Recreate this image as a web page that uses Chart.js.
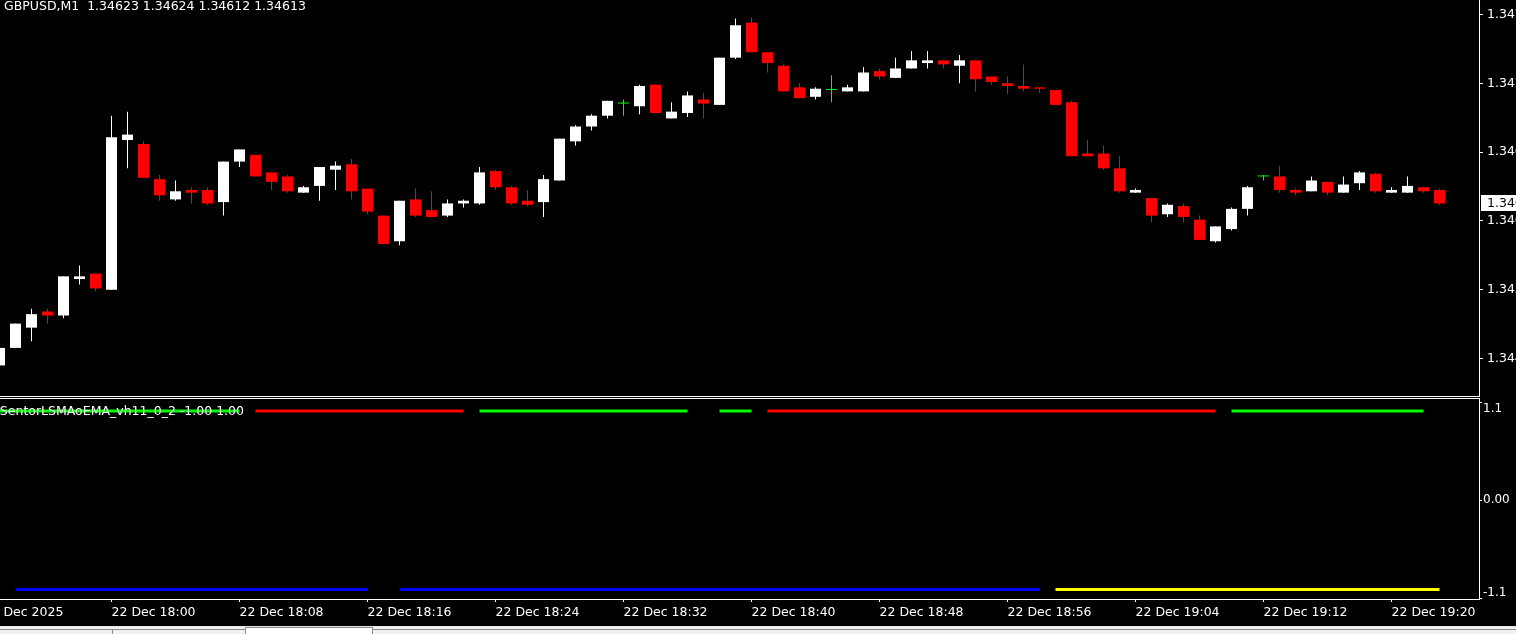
<!DOCTYPE html>
<html>
<head>
<meta charset="utf-8">
<script src="https://cdn.jsdelivr.net/npm/chart.js@4.4.1/dist/chart.umd.min.js"></script>
<style>
  html, body { margin: 0; padding: 0; background: #000; overflow: hidden; }
  #wrap { position: relative; width: 1516px; height: 634px; background: #000; }
  canvas { position: absolute; left: 0; }
  #main { top: 0; }
  #ind { top: 397px; }
  #tabs { position: absolute; left: 0; top: 626px; width: 1516px; height: 8px; background: #f0f0f0; border-top: 1px solid #e6e6e6; box-sizing: border-box; }
  .tab { position: absolute; top: 2px; height: 6px; border: 1px solid #8c8c8c; border-bottom: none; box-sizing: border-box; background: #f0f0f0; }
</style>
</head>
<body>
<div id="wrap">
  <canvas id="main" width="1516" height="397"></canvas>
  <canvas id="ind" width="1516" height="229"></canvas>
  <div id="tabs">
    <div class="tab" style="left:-1px;width:114px"></div>
    <div class="tab" style="left:112px;width:134px"></div>
    <div class="tab" style="left:245px;width:128px;background:#fff;top:0;height:8px"></div>
    <div class="tab" style="left:372px;width:1150px"></div>
  </div>
</div>
<script>
/* global Chart */

// GBPUSD M1, 22 Dec 2025
const symbol = 'GBPUSD,M1';
const times = [
  '17:53','17:54','17:55','17:56','17:57','17:58','17:59',
  '18:00','18:01','18:02','18:03','18:04','18:05','18:06','18:07','18:08','18:09',
  '18:10','18:11','18:12','18:13','18:14','18:15','18:16','18:17','18:18','18:19',
  '18:20','18:21','18:22','18:23','18:24','18:25','18:26','18:27','18:28','18:29',
  '18:30','18:31','18:32','18:33','18:34','18:35','18:36','18:37','18:38','18:39',
  '18:40','18:41','18:42','18:43','18:44','18:45','18:46','18:47','18:48','18:49',
  '18:50','18:51','18:52','18:53','18:54','18:55','18:56','18:57','18:58','18:59',
  '19:00','19:01','19:02','19:03','19:04','19:05','19:06','19:07','19:08','19:09',
  '19:10','19:11','19:12','19:13','19:14','19:15','19:16','19:17','19:18','19:19',
  '19:20','19:21','19:22','19:23'
];
const opens = [
  1.34493,1.34506,1.34521,1.34533,1.34530,1.34557,1.34561,
  1.34549,1.34660,1.34657,1.34631,1.34616,1.34623,1.34623,1.34614,1.34644,1.34649,
  1.34636,1.34633,1.34621,1.34626,1.34638,1.34642,1.34624,1.34604,1.34585,1.34616,
  1.34608,1.34604,1.34613,1.34613,1.34637,1.34625,1.34615,1.34614,1.34630,1.34659,
  1.34670,1.34678,1.34687,1.34685,1.34701,1.34676,1.34680,1.34690,1.34686,1.34721,
  1.34747,1.34725,1.34715,1.34699,1.34692,1.34697,1.34696,1.34696,1.34711,1.34706,
  1.34713,1.34717,1.34719,1.34715,1.34719,1.34707,1.34702,1.34700,1.34699,1.34697,
  1.34688,1.34650,1.34650,1.34639,1.34621,1.34617,1.34605,1.34611,1.34601,1.34585,
  1.34594,1.34609,1.34633,1.34633,1.34623,1.34622,1.34629,1.34621,1.34628,1.34635,
  1.34621,1.34621,1.34625,1.34623
];
const highs = [
  1.34506,1.34524,1.34535,1.34535,1.34559,1.34567,1.34561,
  1.34678,1.34681,1.34659,1.34634,1.34630,1.34625,1.34625,1.34644,1.34653,1.34649,
  1.34636,1.34634,1.34626,1.34640,1.34644,1.34646,1.34624,1.34604,1.34615,1.34624,
  1.34622,1.34616,1.34616,1.34640,1.34638,1.34626,1.34623,1.34634,1.34661,1.34671,
  1.34679,1.34689,1.34690,1.34701,1.34701,1.34688,1.34696,1.34695,1.34721,1.34750,
  1.34751,1.34725,1.34716,1.34702,1.34699,1.34708,1.34701,1.34714,1.34713,1.34721,
  1.34726,1.34726,1.34719,1.34723,1.34719,1.34707,1.34707,1.34716,1.34699,1.34697,
  1.34689,1.34660,1.34656,1.34648,1.34624,1.34617,1.34613,1.34613,1.34604,1.34596,
  1.34610,1.34626,1.34634,1.34641,1.34624,1.34633,1.34629,1.34633,1.34637,1.34636,
  1.34625,1.34633,1.34625,1.34624
];
const lows = [
  1.34493,1.34506,1.34511,1.34524,1.34528,1.34553,1.34548,
  1.34549,1.34639,1.34632,1.34615,1.34615,1.34613,1.34612,1.34604,1.34640,1.34633,
  1.34623,1.34621,1.34621,1.34615,1.34623,1.34616,1.34605,1.34583,1.34582,1.34603,
  1.34603,1.34603,1.34610,1.34612,1.34623,1.34612,1.34611,1.34603,1.34630,1.34656,
  1.34667,1.34676,1.34678,1.34679,1.34680,1.34676,1.34677,1.34676,1.34686,1.34720,
  1.34725,1.34710,1.34696,1.34691,1.34690,1.34688,1.34696,1.34696,1.34705,1.34706,
  1.34713,1.34713,1.34713,1.34702,1.34696,1.34701,1.34694,1.34696,1.34695,1.34686,
  1.34648,1.34648,1.34638,1.34621,1.34621,1.34599,1.34603,1.34599,1.34586,1.34584,
  1.34593,1.34604,1.34630,1.34621,1.34619,1.34622,1.34619,1.34621,1.34623,1.34621,
  1.34621,1.34621,1.34621,1.34612
];
const closes = [
  1.34506,1.34524,1.34531,1.34530,1.34559,1.34559,1.34550,
  1.34662,1.34664,1.34632,1.34619,1.34622,1.34621,1.34613,1.34644,1.34653,1.34633,
  1.34629,1.34622,1.34625,1.34640,1.34641,1.34622,1.34607,1.34583,1.34615,1.34604,
  1.34603,1.34613,1.34615,1.34636,1.34625,1.34613,1.34612,1.34631,1.34661,1.34670,
  1.34678,1.34689,1.34687,1.34700,1.34680,1.34681,1.34693,1.34687,1.34721,1.34745,
  1.34725,1.34717,1.34696,1.34691,1.34698,1.34697,1.34699,1.34710,1.34707,1.34713,
  1.34719,1.34719,1.34716,1.34719,1.34705,1.34703,1.34700,1.34698,1.34698,1.34686,
  1.34648,1.34648,1.34639,1.34622,1.34623,1.34604,1.34612,1.34603,1.34586,1.34596,
  1.34609,1.34625,1.34633,1.34623,1.34621,1.34630,1.34621,1.34627,1.34636,1.34622,
  1.34623,1.34626,1.34622,1.34613
];

// indicator buffers (null = not drawn on that bar)
const _ = null;
const trendUpGreen = [
  1,1,1,1,1,1,1,1,1,1, 1,1,1,1,1,1,_,_,_,_, _,_,_,_,_,_,_,_,_,_,
  1,1,1,1,1,1,1,1,1,1, 1,1,1,1,_,1,1,1,_,_, _,_,_,_,_,_,_,_,_,_,
  _,_,_,_,_,_,_,_,_,_, _,_,_,_,_,_,_,1,1,1, 1,1,1,1,1,1,1,1,1,1, _
];
const trendUpRed = [
  _,_,_,_,_,_,_,_,_,_, _,_,_,_,_,_,1,1,1,1, 1,1,1,1,1,1,1,1,1,1,
  _,_,_,_,_,_,_,_,_,_, _,_,_,_,_,_,_,_,1,1, 1,1,1,1,1,1,1,1,1,1,
  1,1,1,1,1,1,1,1,1,1, 1,1,1,1,1,1,1,_,_,_, _,_,_,_,_,_,_,_,_,_, _
];
const trendDnBlue = [
  _,-1,-1,-1,-1,-1,-1,-1,-1,-1, -1,-1,-1,-1,-1,-1,-1,-1,-1,-1, -1,-1,-1,-1,_,-1,-1,-1,-1,-1,
  -1,-1,-1,-1,-1,-1,-1,-1,-1,-1, -1,-1,-1,-1,-1,-1,-1,-1,-1,-1, -1,-1,-1,-1,-1,-1,-1,-1,-1,-1,
  -1,-1,-1,-1,-1,-1,_,_,_,_, _,_,_,_,_,_,_,_,_,_, _,_,_,_,_,_,_,_,_,_, _
];
const trendDnYellow = [
  _,_,_,_,_,_,_,_,_,_, _,_,_,_,_,_,_,_,_,_, _,_,_,_,_,_,_,_,_,_,
  _,_,_,_,_,_,_,_,_,_, _,_,_,_,_,_,_,_,_,_, _,_,_,_,_,_,_,_,_,_,
  _,_,_,_,_,_,-1,-1,-1,-1, -1,-1,-1,-1,-1,-1,-1,-1,-1,-1, -1,-1,-1,-1,-1,-1,-1,-1,-1,-1, -1
];
const indName = 'SentorLSMAoEMA_vh11_0_2 -1.00 1.00';

// axis ticks
const priceTicks = [1.34498, 1.34549, 1.34600, 1.34651, 1.34702, 1.34753];
const indTicks = [1.1, 0, -1.1];
const indTickLabels = ['1.1', '0.00', '-1.1'];
const timeTicks = ['17:52','18:00','18:08','18:16','18:24','18:32','18:40','18:48','18:56','19:04','19:12','19:20'];
const timeTickLabels = ['22 Dec 2025','22 Dec 18:00','22 Dec 18:08','22 Dec 18:16','22 Dec 18:24','22 Dec 18:32',
  '22 Dec 18:40','22 Dec 18:48','22 Dec 18:56','22 Dec 19:04','22 Dec 19:12','22 Dec 19:20'];

// visible window
const xMin = -6.96875, xMax = 85.46875;          // minutes from 18:00
const priceMin = 1.3447037, priceMax = 1.3476370;
const indMin = -1.1064, indMax = 1.1457;

function toMin(t) {
  const [h, m] = t.split(':').map(Number);
  return (h - 18) * 60 + m;
}
const xs = times.map(toMin);

Chart.defaults.font.family = '"DejaVu Sans"';
Chart.defaults.font.size = 12;
Chart.defaults.color = '#fff';
const FONT = '12.5px "DejaVu Sans"';

const candleColor = (i) => closes[i] > opens[i] ? '#ffffff' : (closes[i] < opens[i] ? '#ff0000' : '#00ff00');
const colors = times.map((t, i) => candleColor(i));

function noPad(s) {
  s.paddingLeft = 0; s.paddingRight = 0; s.paddingTop = 0; s.paddingBottom = 0;
}

const mainDecor = {
  id: 'mainDecor',
  afterDraw(chart) {
    const ctx = chart.ctx;
    const n = closes.length - 1;
    const y = Math.round(chart.scales.y.getPixelForValue(closes[n]));
    const r = chart.chartArea.right;
    ctx.save();
    ctx.fillStyle = '#fff';
    ctx.fillRect(r + 2, y - 8, 40, 16);
    ctx.fillStyle = '#000';
    ctx.font = FONT;
    ctx.textBaseline = 'middle';
    ctx.fillText(closes[n].toFixed(5), r + 8, y + 0.5);
    ctx.fillStyle = '#fff';
    ctx.textBaseline = 'alphabetic';
    const title = symbol + '  ' + [opens[n], highs[n], lows[n], closes[n]].map(v => v.toFixed(5)).join(' ');
    ctx.fillText(title, 4, 10);
    ctx.restore();
  }
};

new Chart(document.getElementById('main'), {
  type: 'bar',
  data: {
    datasets: [
      {
        label: 'wick',
        data: xs.map((x, i) => ({ x: x, y: [lows[i], highs[i]] })),
        backgroundColor: colors,
        barThickness: 1,
        grouped: false,
        inflateAmount: 0,
        borderWidth: 0,
        order: 2
      },
      {
        label: 'body',
        data: xs.map((x, i) => ({ x: x, y: [opens[i], closes[i]] })),
        backgroundColor: colors,
        barThickness: 11,
        minBarLength: 1,
        grouped: false,
        inflateAmount: 0,
        borderWidth: 0,
        order: 1
      }
    ]
  },
  options: {
    responsive: false,
    animation: false,
    devicePixelRatio: 1,
    layout: { padding: 0 },
    plugins: { legend: { display: false }, tooltip: { enabled: false } },
    scales: {
      x: {
        type: 'linear', min: xMin, max: xMax, offset: false,
        grid: { display: false },
        ticks: { display: false },
        border: { color: '#fff', width: 1 },
        afterFit: (s) => { s.height = 1; noPad(s); }
      },
      y: {
        position: 'right', min: priceMin, max: priceMax,
        afterBuildTicks: (s) => { s.ticks = priceTicks.map(v => ({ value: v })); },
        ticks: { color: '#fff', font: { size: 12.5 }, padding: 4, callback: (v) => v.toFixed(5) },
        grid: { drawOnChartArea: false, color: '#fff', tickLength: 4 },
        border: { color: '#fff', width: 1 },
        afterFit: (s) => { s.width = 37; noPad(s); }
      }
    }
  },
  plugins: [mainDecor]
});

const indDecor = {
  id: 'indDecor',
  beforeDraw(chart) {
    const items = chart.scales.y.getLabelItems();
    items.forEach(it => {
      if (it.label === '1.1') it.options.translation[1] += 7;
      if (it.label === '-1.1') it.options.translation[1] -= 6;
    });
  },
  afterDraw(chart) {
    const { ctx, chartArea } = chart;
    ctx.save();
    ctx.strokeStyle = '#fff';
    ctx.lineWidth = 1;
    ctx.beginPath();
    ctx.moveTo(0, chartArea.top + 0.5);
    ctx.lineTo(chartArea.right + 1, chartArea.top + 0.5);
    ctx.stroke();
    ctx.font = FONT;
    ctx.fillStyle = '#fff';
    ctx.textAlign = 'right';
    ctx.fillText(indName, 244, 18);
    ctx.restore();
  }
};

const lineSet = (label, arr, color) => ({
  label: label,
  data: xs.map((x, i) => ({ x: x, y: arr[i] })),
  borderColor: color,
  borderWidth: 3,
  pointRadius: 0,
  tension: 0,
  spanGaps: false
});

new Chart(document.getElementById('ind'), {
  type: 'line',
  data: {
    datasets: [
      lineSet('up green', trendUpGreen, '#00ff00'),
      lineSet('up red', trendUpRed, '#ff0000'),
      lineSet('down blue', trendDnBlue, '#0000ff'),
      lineSet('down yellow', trendDnYellow, '#ffff00')
    ]
  },
  options: {
    responsive: false,
    animation: false,
    devicePixelRatio: 1,
    layout: { padding: { top: 1, left: 0, right: 0, bottom: 0 } },
    plugins: { legend: { display: false }, tooltip: { enabled: false } },
    scales: {
      x: {
        type: 'linear', min: xMin, max: xMax,
        afterBuildTicks: (s) => { s.ticks = timeTicks.map(t => ({ value: toMin(t) })); },
        ticks: {
          color: '#fff', font: { size: 12.5 }, align: 'start', autoSkip: false,
          maxRotation: 0, padding: 3,
          callback: (v, i) => timeTickLabels[i]
        },
        grid: { drawOnChartArea: false, color: '#fff', tickLength: 3 },
        border: { color: '#fff', width: 1 },
        afterFit: (s) => { s.height = 27; noPad(s); }
      },
      y: {
        position: 'right', min: indMin, max: indMax,
        afterBuildTicks: (s) => { s.ticks = indTicks.map(v => ({ value: v })); },
        ticks: { color: '#fff', padding: 1, callback: (v, i) => indTickLabels[i] },
        grid: { drawOnChartArea: false, color: '#fff', tickLength: 3 },
        border: { color: '#fff', width: 1 },
        afterFit: (s) => { s.width = 37; noPad(s); }
      }
    }
  },
  plugins: [indDecor]
});
</script>
</body>
</html>
